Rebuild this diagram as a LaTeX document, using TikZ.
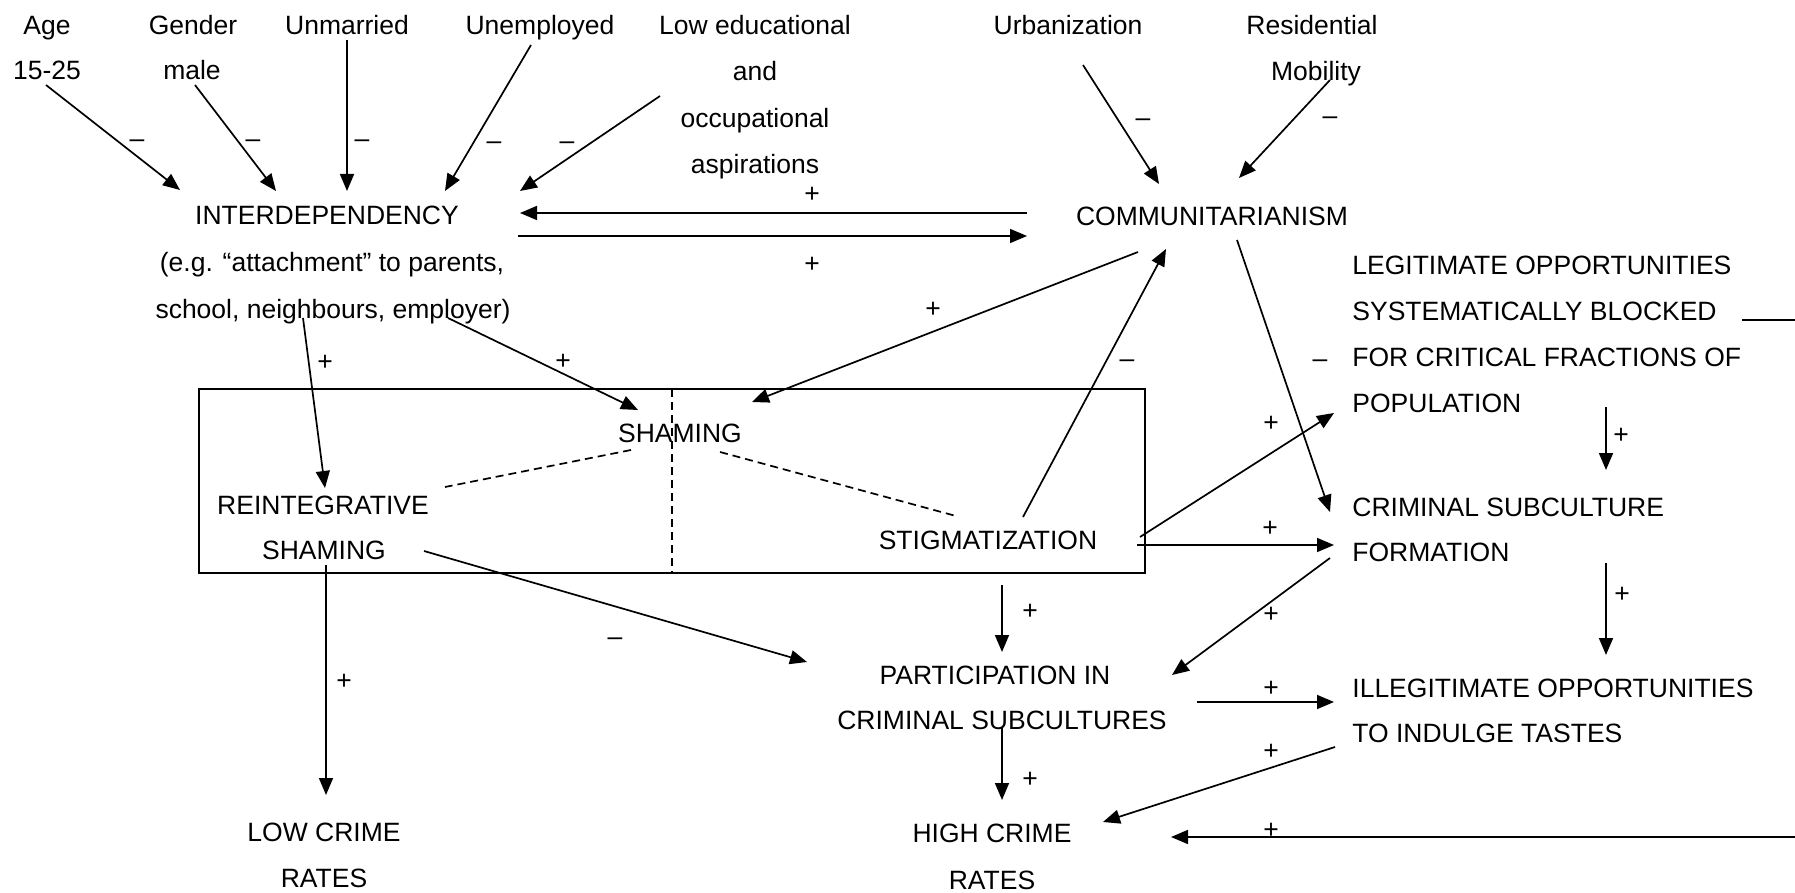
\documentclass[tikz,border=0pt]{standalone}
\usepackage{fontspec}
\setmainfont{Liberation Sans}
\usetikzlibrary{arrows.meta}
\begin{document}
\begin{tikzpicture}[x=0.5pt,y=-0.5pt,
  every node/.style={inner sep=0pt, text height=9.5pt, text depth=0pt,
    font=\fontsize{13.25}{16}\selectfont},
  lft/.style={anchor=west},
  arr/.style={-{Triangle[length=8.5pt,width=7pt]}, line width=0.85pt},
  link/.style={line width=0.85pt},
  dsh/.style={line width=0.85pt, dash pattern=on 4pt off 2.5pt},
]
\useasboundingbox[fill=white] (0,0) rectangle (1795,893);

% ---------- causes at the top ----------
\node (age1) at (47,25) {Age};
\node (age2) at (47,70) {15-25};
\node (gen1) at (193,25) {Gender};
\node (gen2) at (192,70) {male};
\node (unm) at (347,25) {Unmarried};
\node (une) at (540,25) {Unemployed};
\node (low1) at (755,25) {Low educational};
\node (low2) at (755,71.5) {and};
\node (low3) at (755,118) {occupational};
\node (low4) at (755,164.5) {aspirations};
\node (urb) at (1068,25) {Urbanization};
\node (res1) at (1312,25) {Residential};
\node (res2) at (1316,71) {Mobility};

% ---------- central concepts ----------
\node (int1) at (327,215) {INTERDEPENDENCY};
\node (int2) at (332,262) {(e.g. “attachment” to parents,};
\node (int3) at (333,309) {school, neighbours, employer)};
\node (com) at (1212,216) {COMMUNITARIANISM};

\node[lft] (leg1) at (1352,265) {LEGITIMATE OPPORTUNITIES};
\node[lft] (leg2) at (1352,311) {SYSTEMATICALLY BLOCKED};
\node[lft] (leg3) at (1352,357) {FOR CRITICAL FRACTIONS OF};
\node[lft] (leg4) at (1352,403) {POPULATION};
\node[lft] (csf1) at (1352,507) {CRIMINAL SUBCULTURE};
\node[lft] (csf2) at (1352,552) {FORMATION};
\node[lft] (ill1) at (1352,688) {ILLEGITIMATE OPPORTUNITIES};
\node[lft] (ill2) at (1352,733) {TO INDULGE TASTES};

% ---------- shaming box ----------
\coordinate (boxnw) at (199,389);
\coordinate (boxse) at (1145,573);
\draw[link] (boxnw) rectangle (boxse);
\coordinate (divtop) at (672,389);
\coordinate (divbot) at (672,573);
\draw[dsh] (divtop) -- (divbot);
\node (sham) at (680,433) {SHAMING};
\node (rei1) at (323,505) {REINTEGRATIVE};
\node (rei2) at (324,550) {SHAMING};
\node (stig) at (988,540) {STIGMATIZATION};

\node (par1) at (995,675) {PARTICIPATION IN};
\node (par2) at (1002,720) {CRIMINAL SUBCULTURES};
\node (lcr1) at (324,832) {LOW CRIME};
\node (lcr2) at (324,878) {RATES};
\node (hcr1) at (992,833) {HIGH CRIME};
\node (hcr2) at (992,880) {RATES};

% ---------- connector end points ----------
\coordinate (a1s) at (46,85);    \coordinate (a1e) at (180,190);
\coordinate (a2s) at (195,85);   \coordinate (a2e) at (276,191);
\coordinate (a3s) at (347,40);   \coordinate (a3e) at (347,191);
\coordinate (a4s) at (531,45);   \coordinate (a4e) at (445,191);
\coordinate (a5s) at (660,96);   \coordinate (a5e) at (520,191);
\coordinate (a6s) at (1027,213); \coordinate (a6e) at (520,213);
\coordinate (a7s) at (518,236);  \coordinate (a7e) at (1027,236);
\coordinate (a8s) at (1083,65);  \coordinate (a8e) at (1159,184);
\coordinate (a9s) at (1330,80);  \coordinate (a9e) at (1239,178);
\coordinate (b1s) at (1138,252); \coordinate (b1e) at (752,402);
\coordinate (b2s) at (1023,517); \coordinate (b2e) at (1166,249);
\coordinate (b3s) at (1237,240); \coordinate (b3e) at (1330,512);
\coordinate (b4s) at (1140,537); \coordinate (b4e) at (1334,413);
\coordinate (b5s) at (1137,545); \coordinate (b5e) at (1334,545);
\coordinate (b6s) at (1606,407); \coordinate (b6e) at (1606,470);
\coordinate (c1s) at (303,318);  \coordinate (c1e) at (325,488);
\coordinate (c2s) at (448,318);  \coordinate (c2e) at (638,410);
\coordinate (d1s) at (631,450);  \coordinate (d1e) at (445,487);
\coordinate (d2s) at (720,452);  \coordinate (d2e) at (956,516);
\coordinate (e1s) at (326,565);  \coordinate (e1e) at (326,795);
\coordinate (e2s) at (424,551);  \coordinate (e2e) at (807,662);
\coordinate (e3s) at (1002,585); \coordinate (e3e) at (1002,652);
\coordinate (e4s) at (1330,558); \coordinate (e4e) at (1172,675);
\coordinate (e5s) at (1606,563); \coordinate (e5e) at (1606,655);
\coordinate (e6s) at (1197,702); \coordinate (e6e) at (1334,702);
\coordinate (e7s) at (1002,728); \coordinate (e7e) at (1002,800);
\coordinate (e8s) at (1335,747); \coordinate (e8e) at (1103,822);
\coordinate (f1) at (1742,320);  \coordinate (f2) at (1795.6,320);
\coordinate (f3) at (1795.6,837);  \coordinate (f4) at (1171,837);

% ---------- connectors ----------
\draw[arr] (a1s) -- (a1e);
\draw[arr] (a2s) -- (a2e);
\draw[arr] (a3s) -- (a3e);
\draw[arr] (a4s) -- (a4e);
\draw[arr] (a5s) -- (a5e);
\draw[arr] (a6s) -- (a6e);
\draw[arr] (a7s) -- (a7e);
\draw[arr] (a8s) -- (a8e);
\draw[arr] (a9s) -- (a9e);
\draw[arr] (b1s) -- (b1e);
\draw[arr] (b2s) -- (b2e);
\draw[arr] (b3s) -- (b3e);
\draw[arr] (b4s) -- (b4e);
\draw[arr] (b5s) -- (b5e);
\draw[arr] (b6s) -- (b6e);
\draw[arr] (c1s) -- (c1e);
\draw[arr] (c2s) -- (c2e);
\draw[dsh] (d1s) -- (d1e);
\draw[dsh] (d2s) -- (d2e);
\draw[arr] (e1s) -- (e1e);
\draw[arr] (e2s) -- (e2e);
\draw[arr] (e3s) -- (e3e);
\draw[arr] (e4s) -- (e4e);
\draw[arr] (e5s) -- (e5e);
\draw[arr] (e6s) -- (e6e);
\draw[arr] (e7s) -- (e7e);
\draw[arr] (e8s) -- (e8e);
\draw[arr] (f1) -- (f2) -- (f3) -- (f4);

% ---------- signs ----------
\node (s1) at (137,138) {–};
\node (s2) at (253,138) {–};
\node (s3) at (362,138) {–};
\node (s4) at (494,140) {–};
\node (s5) at (567,140) {–};
\node (s6) at (812,193) {+};
\node (s7) at (812,263) {+};
\node (s8) at (1143,117) {–};
\node (s9) at (1330,115) {–};
\node (s10) at (933,308) {+};
\node (s11) at (1127,358) {–};
\node (s12) at (1320,358) {–};
\node (s13) at (1271,422) {+};
\node (s14) at (1270,527) {+};
\node (s15) at (1621,434) {+};
\node (s16) at (325,361) {+};
\node (s17) at (563,360) {+};
\node (s18) at (344,680) {+};
\node (s19) at (615,636) {–};
\node (s20) at (1030,610) {+};
\node (s21) at (1271,613) {+};
\node (s22) at (1622,593) {+};
\node (s23) at (1271,687) {+};
\node (s24) at (1030,778) {+};
\node (s25) at (1271,750) {+};
\node (s26) at (1271,829) {+};
\end{tikzpicture}
\end{document}
